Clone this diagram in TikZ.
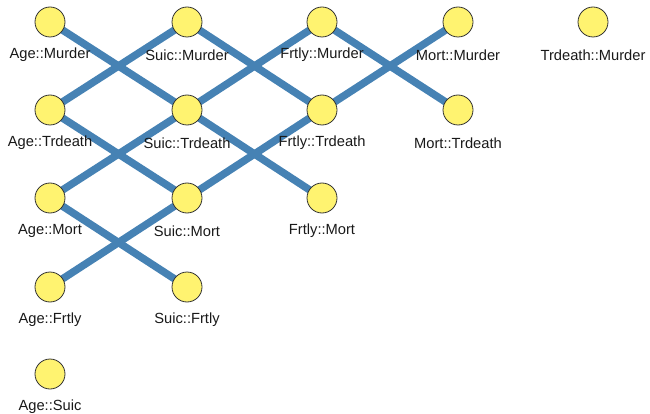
\documentclass[tikz,border=0pt]{standalone}
\usepackage{fontspec}
\setmainfont{Liberation Sans}
\begin{document}
\begin{tikzpicture}[x=1pt,y=-1pt,
  vtx/.style={circle,draw=black!80,line width=0.8pt,fill=vyellow,minimum size=30pt,inner sep=0pt},
  lbl/.style={font=\fontsize{14.7}{16}\selectfont,text=black!90,inner sep=0pt},
  edge/.style={draw=eblue,line width=7.5pt}]
\definecolor{vyellow}{HTML}{FFF370}
\definecolor{eblue}{HTML}{4682B4}
\useasboundingbox (0,0) rectangle (650,414);
% coordinates
\coordinate (pAM) at (50,22);
\coordinate (pSM) at (187,22);
\coordinate (pFM) at (322,22);
\coordinate (pMM) at (458,22);
\coordinate (pTM) at (593,22);
\coordinate (pAT) at (50,110);
\coordinate (pST) at (187,110);
\coordinate (pFT) at (322,110);
\coordinate (pMT) at (458,110);
\coordinate (pAMo) at (50,198);
\coordinate (pSMo) at (187,198);
\coordinate (pFMo) at (322,198);
\coordinate (pAF) at (50,287);
\coordinate (pSF) at (187,287);
\coordinate (pAS) at (50,374);
% edges
\draw[edge] (pAM) -- (pST);
\draw[edge] (pSM) -- (pAT);
\draw[edge] (pSM) -- (pFT);
\draw[edge] (pFM) -- (pST);
\draw[edge] (pFM) -- (pMT);
\draw[edge] (pMM) -- (pFT);
\draw[edge] (pAT) -- (pSMo);
\draw[edge] (pST) -- (pAMo);
\draw[edge] (pST) -- (pFMo);
\draw[edge] (pFT) -- (pSMo);
\draw[edge] (pAMo) -- (pSF);
\draw[edge] (pSMo) -- (pAF);
% nodes
\foreach \c/\t in {pAM/Age::Murder, pSM/Suic::Murder, pFM/Frtly::Murder, pMM/Mort::Murder, pTM/Trdeath::Murder,
  pAT/Age::Trdeath, pST/Suic::Trdeath, pFT/Frtly::Trdeath, pMT/Mort::Trdeath,
  pAMo/Age::Mort, pSMo/Suic::Mort, pFMo/Frtly::Mort,
  pAF/Age::Frtly, pSF/Suic::Frtly, pAS/Age::Suic}{
  \node[vtx] (n\c) at (\c) {};
  \node[lbl] (l\c) at ([yshift=-33pt]\c) {\t};
}
\end{tikzpicture}
\end{document}
